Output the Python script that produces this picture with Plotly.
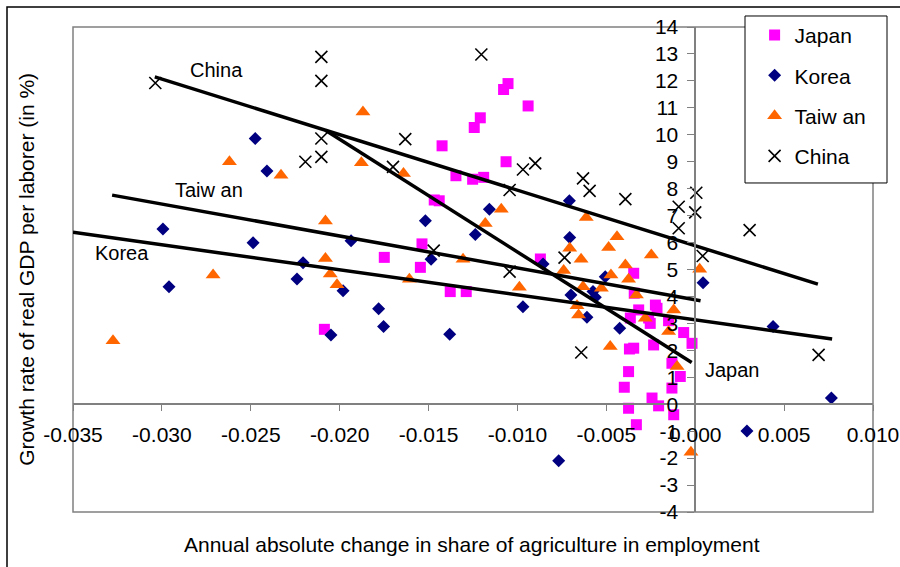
import plotly.graph_objects as go

# --- datos ---
japan_x = [-0.01053, -0.01078, -0.00940, -0.01209, -0.01243, -0.01424, -0.01064, -0.01346,
           -0.01252, -0.01190, -0.01468, -0.01440, -0.01537, -0.01749, -0.01546, -0.01378,
           -0.01288, -0.00871, -0.02086, -0.00346, -0.00343, -0.00224, -0.00318, -0.00365,
           -0.00262, -0.00215, -0.00150, -0.00065, -0.00253, -0.00018, -0.00234, -0.00346,
           -0.00370, -0.00131, -0.00084, -0.00131, -0.00375, -0.00399, -0.00243, -0.00206,
           -0.00375, -0.00121, -0.00331]
japan_y = [11.90, 11.68, 11.07, 10.63, 10.27, 9.59, 9.00, 8.48,
           8.35, 8.42, 7.58, 7.55, 5.95, 5.45, 5.08, 4.18,
           4.18, 5.39, 2.78, 4.86, 4.12, 3.68, 3.50, 3.20,
           3.20, 3.56, 3.10, 2.66, 3.00, 2.26, 2.20, 2.08,
           2.05, 1.52, 1.03, 0.60, 1.21, 0.63, 0.23, -0.06,
           -0.15, -0.39, -0.76]

korea_x = [-0.02475, -0.02409, -0.02994, -0.02487, -0.02206, -0.01936, -0.01518, -0.02240,
           -0.02960, -0.01981, -0.02049, -0.01781, -0.01753, -0.01381, -0.01158, -0.01237,
           -0.01486, -0.00969, -0.00856, -0.00708, -0.00706, 0.00044, -0.00699, -0.00575,
           -0.00562, -0.00609, -0.00425, -0.00768, 0.00291, 0.00438, 0.00766, -0.00506]
korea_y = [9.86, 8.66, 6.50, 5.99, 5.25, 6.07, 6.81, 4.65,
           4.36, 4.21, 2.57, 3.54, 2.88, 2.60, 7.24, 6.30,
           5.38, 3.62, 5.20, 7.55, 6.19, 4.51, 4.05, 4.18,
           3.97, 3.23, 2.82, -2.10, -0.99, 2.88, 0.23, 4.73]

taiwan_x = [-0.02620, -0.02330, -0.01869, -0.01878, -0.01641, -0.02080, -0.02080, -0.02712,
            -0.02053, -0.02015, -0.03275, -0.01091, -0.01181, -0.01306, -0.01608, -0.00989,
            -0.00613, -0.00440, -0.00487, -0.00706, -0.00642, -0.00247, -0.00393, -0.00740,
            0.00025, -0.00474, -0.00375, -0.00631, -0.00528, -0.00331, -0.00665, -0.00656,
            -0.00281, -0.00121, -0.00150, -0.00478, -0.00102, -0.00024]
taiwan_y = [9.00, 8.50, 10.85, 8.96, 8.56, 6.80, 5.41, 4.80,
            4.83, 4.43, 2.36, 7.24, 6.71, 5.38, 4.64, 4.34,
            6.93, 6.22, 5.82, 5.79, 5.38, 5.54, 5.17, 4.96,
            5.01, 4.80, 4.64, 4.36, 4.30, 4.05, 3.65, 3.31,
            3.19, 3.50, 2.70, 2.14, 1.40, -1.78]

china_x = [-0.03037, -0.02103, -0.02103, -0.02103, -0.02103, -0.02193, -0.01203, -0.01631,
           -0.01700, -0.00969, -0.00900, -0.01044, -0.00631, -0.00594, -0.00393, -0.00093,
           -0.00093, 0.00006, 0.00000, 0.00306, 0.00042, -0.00735, -0.01044, -0.01471,
           -0.00641, 0.00694]
china_y = [11.92, 12.89, 12.00, 9.86, 9.18, 9.00, 12.98, 9.84,
           8.81, 8.71, 8.94, 7.95, 8.38, 7.92, 7.61, 7.33,
           6.53, 7.85, 7.12, 6.46, 5.50, 5.44, 4.92, 5.70,
           1.92, 1.83]

# lineas de tendencia (extremos)
trend_china_x = [-0.0304, 0.0069]
trend_china_y = [12.15, 4.46]
trend_taiwan_x = [-0.0328, 0.0003]
trend_taiwan_y = [7.76, 3.84]
trend_korea_x = [-0.035, 0.0077]
trend_korea_y = [6.38, 2.42]
trend_japan_x = [-0.0208, -0.0002]
trend_japan_y = [10.17, 1.55]

x_ticks = [-0.035, -0.030, -0.025, -0.020, -0.015, -0.010, -0.005, 0.000, 0.005, 0.010]
x_tick_labels = ["-0.035", "-0.030", "-0.025", "-0.020", "-0.015", "-0.010", "-0.005",
                 "0.000", "0.005", "0.010"]
y_ticks = list(range(-4, 15))
y_tick_labels = [str(v) for v in y_ticks]

FONT = "Liberation Sans, Arial, sans-serif"

fig = go.Figure()

series = [
    ("Japan", japan_x, japan_y, dict(symbol="square", size=11, color="#FF00FF")),
    ("Korea", korea_x, korea_y, dict(symbol="diamond", size=10, color="#000080")),
    ("Taiw an", taiwan_x, taiwan_y, dict(symbol="triangle-up", size=13, color="#FF6600")),
    ("China", china_x, china_y, dict(symbol="x-thin", size=12, color="black",
                                     line=dict(color="black", width=1.6))),
]
for name, xs, ys, mk in series:
    fig.add_trace(go.Scatter(x=xs, y=ys, mode="markers", name=name, marker=mk,
                             legendgroup=name))

for xs, ys in [(trend_china_x, trend_china_y), (trend_taiwan_x, trend_taiwan_y),
               (trend_korea_x, trend_korea_y), (trend_japan_x, trend_japan_y)]:
    fig.add_trace(go.Scatter(x=xs, y=ys, mode="lines", line=dict(color="black", width=3.5),
                             showlegend=False, hoverinfo="skip"))

labels = [("China", -0.02694, 12.39), ("Taiw an", -0.02733, 7.95),
          ("Korea", -0.03224, 5.60), ("Japan", 0.00207, 1.27)]
for txt, lx, ly in labels:
    fig.add_annotation(x=lx, y=ly, text=txt, showarrow=False,
                       font=dict(size=20, color="black", family=FONT))

# titulos de ejes como anotaciones (los ejes cruzan en el centro)
fig.add_annotation(xref="paper", yref="paper", x=0.4985, y=-0.067,
                   text="Annual absolute change in share of agriculture in employment",
                   showarrow=False, font=dict(size=21, color="black", family=FONT),
                   xanchor="center", yanchor="middle")
fig.add_annotation(xref="paper", yref="paper", x=-0.059, y=0.501,
                   text="Growth rate of real GDP per laborer (in %)", textangle=-90,
                   showarrow=False, font=dict(size=21, color="black", family=FONT),
                   xanchor="center", yanchor="middle")

# marco del area, marco exterior y caja de la leyenda
fig.add_shape(type="rect", xref="paper", yref="paper", x0=0, x1=1, y0=0, y1=1,
              line=dict(color="#808080", width=1.5), layer="below")
fig.add_shape(type="rect", xref="paper", yref="paper", x0=-0.0825, x1=1.05,
              y0=-0.15, y1=1.0412, line=dict(color="black", width=1.5))
fig.add_shape(type="rect", xref="paper", yref="paper", x0=0.84, x1=1.0175,
              y0=0.6784, y1=1.0227, line=dict(color="black", width=1),
              fillcolor="white", layer="above")

fig.update_layout(
    width=900, height=567,
    margin=dict(l=73, r=27, t=27, b=55, autoexpand=False),
    paper_bgcolor="white", plot_bgcolor="white",
    font=dict(family=FONT, size=21, color="black"),
    xaxis=dict(range=[-0.035, 0.010], tickvals=x_ticks, ticktext=x_tick_labels,
               anchor="free", position=4 / 18, showline=True, linecolor="#808080",
               linewidth=1.5, ticks="outside", ticklen=6, tickcolor="#808080",
               showgrid=False, zeroline=False, ticklabelstandoff=6,
               tickfont=dict(size=21, family=FONT)),
    yaxis=dict(range=[-4, 14], tickvals=y_ticks, ticktext=y_tick_labels,
               anchor="free", position=0.035 / 0.045, showline=True, linecolor="#808080",
               linewidth=1.5, ticks="outside", ticklen=7, tickcolor="#808080",
               showgrid=False, zeroline=False, ticklabelstandoff=5,
               tickfont=dict(size=21, family=FONT)),
    legend=dict(x=0.852, y=1.025, xanchor="left", yanchor="top",
                bgcolor="rgba(0,0,0,0)", borderwidth=0, tracegroupgap=10, itemwidth=30,
                font=dict(size=21, family=FONT)),
    showlegend=True,
)

# sin margen ni barras de desplazamiento, para que la figura ocupe la ventana exacta
page_fix = ("document.documentElement.style.margin = '0';"
            "document.documentElement.style.overflow = 'hidden';"
            "document.body.style.margin = '0';"
            "document.body.style.overflow = 'hidden';")
fig.write_html("out.html", post_script=page_fix, config={"displayModeBar": False})
